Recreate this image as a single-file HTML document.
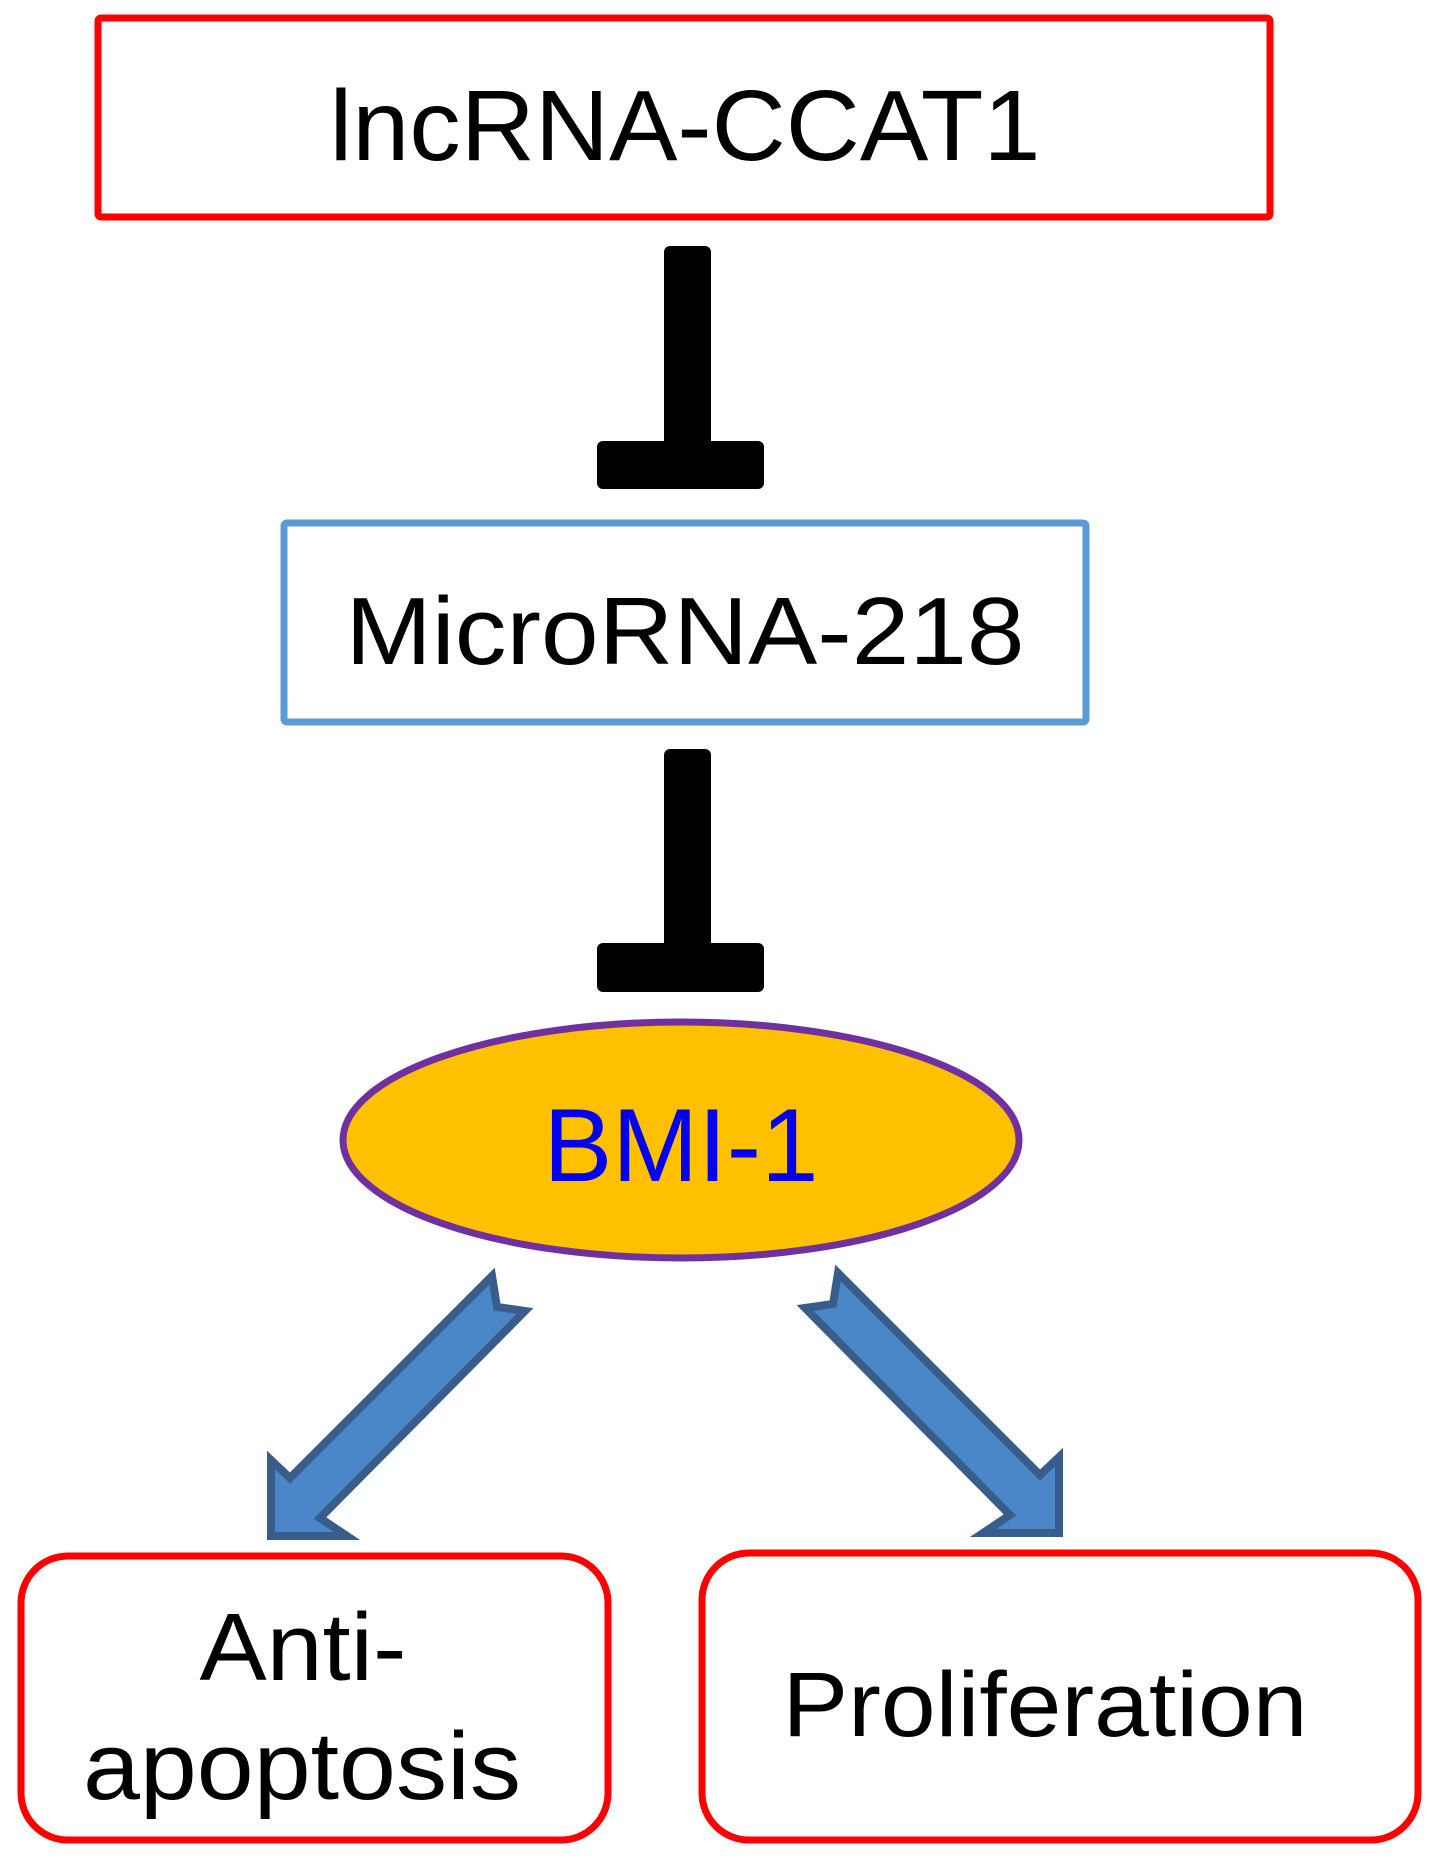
<!DOCTYPE html>
<html><head><meta charset="utf-8"><style>html,body{margin:0;padding:0;background:#fff}svg{display:block}</style></head>
<body>
<svg width="1441" height="1864" viewBox="0 0 1441 1864" xmlns="http://www.w3.org/2000/svg" font-family="Liberation Sans, sans-serif">
<rect x="98" y="18" width="1172" height="199" fill="#fff" stroke="#f00" stroke-width="7" rx="3"/>
<text x="685" y="160" font-size="100" text-anchor="middle" textLength="711" lengthAdjust="spacingAndGlyphs">lncRNA-CCAT1</text>
<rect x="664" y="246" width="47" height="228" rx="6" fill="#000"/>
<rect x="597" y="441" width="167" height="48" rx="6" fill="#000"/>
<rect x="284" y="523" width="802" height="199" fill="#fff" stroke="#5b9bd5" stroke-width="7" rx="3"/>
<text x="685" y="664" font-size="96" text-anchor="middle" textLength="679" lengthAdjust="spacingAndGlyphs">MicroRNA-218</text>
<rect x="664" y="749" width="47" height="229" rx="6" fill="#000"/>
<rect x="597" y="943" width="167" height="49" rx="6" fill="#000"/>
<ellipse cx="681" cy="1140" rx="338" ry="118" fill="#ffc000" stroke="#7030a0" stroke-width="7"/>
<text x="681" y="1181" font-size="104" fill="#0000ee" text-anchor="middle" textLength="275" lengthAdjust="spacingAndGlyphs">BMI-1</text>
<polygon points="271,1536 271,1460 290,1478 492,1276 497,1307 525,1311 320,1518 347,1536" fill="#4a86c8" stroke="#385d8a" stroke-width="8" stroke-linejoin="miter"/>
<polygon points="1059,1533 1059,1457 1040,1475 838,1273 833,1304 805,1308 1010,1515 983,1533" fill="#4a86c8" stroke="#385d8a" stroke-width="8" stroke-linejoin="miter"/>
<rect x="21" y="1556" width="587" height="284" rx="47" fill="#fff" stroke="#f00" stroke-width="7"/>
<rect x="702" y="1553" width="716" height="287" rx="47" fill="#fff" stroke="#f00" stroke-width="7"/>
<text x="303" y="1680" font-size="96" text-anchor="middle" textLength="207" lengthAdjust="spacingAndGlyphs">Anti-</text>
<text x="302" y="1799" font-size="96" text-anchor="middle" textLength="438" lengthAdjust="spacingAndGlyphs">apoptosis</text>
<text x="1045" y="1736" font-size="92" text-anchor="middle" textLength="525" lengthAdjust="spacingAndGlyphs">Proliferation</text>
</svg>
</body></html>
